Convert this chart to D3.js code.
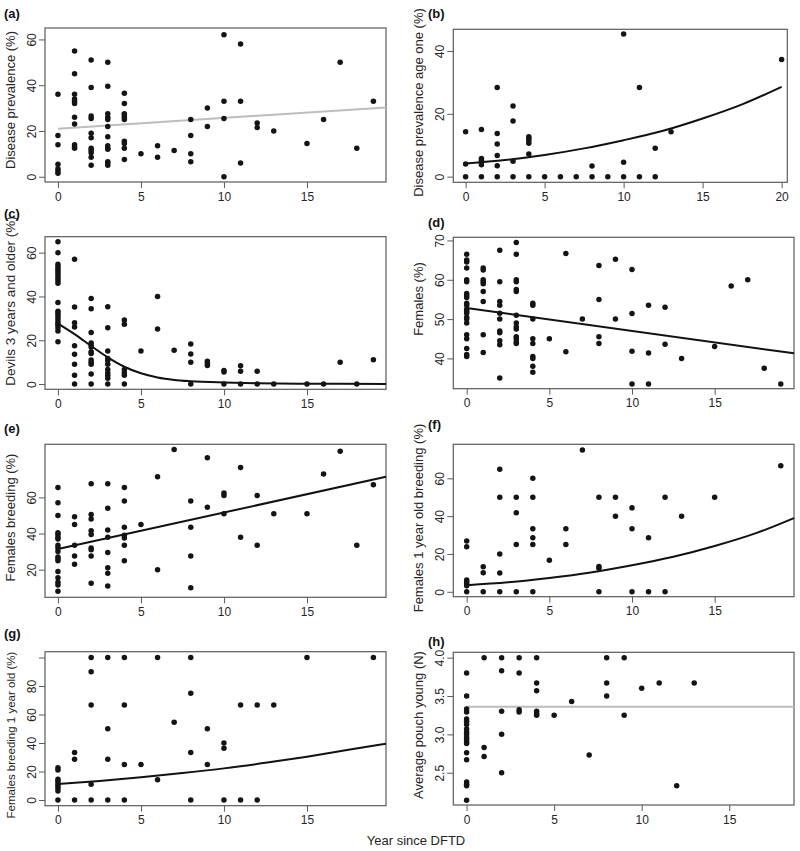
<!DOCTYPE html>
<html>
<head>
<meta charset="utf-8">
<script src="https://cdn.jsdelivr.net/npm/d3@7"></script>
<style>
  html, body { margin: 0; padding: 0; background: #fff; }
  svg { display: block; font-family: "Liberation Sans", Arial, Helvetica, sans-serif; }
</style>
</head>
<body>
<svg id="chart" width="800" height="851"></svg>
<script>
// ---------------- DATA ----------------
// Each series: [yearSinceDFTD, [values observed at that year]]
const diseasePrevalence = [
  [0, [36, 18, 14, 5.5, 3.5, 2.5, 1.5]],
  [1, [55, 45, 36, 34, 33, 32, 26, 23, 14, 13, 12.5]],
  [2, [51, 39, 26.5, 25.5, 19, 17, 12.5, 11.5, 10.5, 8.5, 5]],
  [3, [50, 39.5, 27.5, 26, 25, 22, 17.5, 13.5, 12.5, 12, 6.5, 6, 5]],
  [4, [36.5, 32, 27.5, 27, 26, 25, 15.5, 14.5, 12.5, 7.5]],
  [5, [10]], [6, [13.5, 8.5]], [7, [11.5]], [8, [25, 18, 10, 6.5]],
  [9, [30, 22]], [10, [62, 33, 25.5, 0]], [11, [58, 33, 6]], [12, [23.5, 21.5]],
  [13, [20]], [15, [14.5]], [16, [25]], [17, [50]], [18, [12.5]], [19, [33]]
];
const prevalenceFitX = [0, 19.76];
const prevalenceFitY = [21, 30.3];

const prevalenceAgeOne = [
  [0, [14.3, 4, 0]],
  [1, [15, 5.8, 5.2, 4.6, 3.8, 0]],
  [2, [28.4, 13.7, 10.4, 6.7, 3.5, 0]],
  [3, [22.5, 17.7, 4.9, 0]],
  [4, [12.7, 12.2, 11.5, 10.6, 7.2, 0]],
  [5, [0]], [6, [0]], [7, [0]], [8, [3.4, 0]], [9, [0]],
  [10, [45.4, 4.6, 0]], [11, [28.4, 0]], [12, [9, 0]], [13, [14.3]], [20, [37.3]]
];
const ageOneFitX = [0, 2.5, 5, 7.5, 10, 12.5, 15, 17.5, 20];
const ageOneFitY = [4.2, 5.3, 6.9, 9, 11.6, 14.6, 18.5, 23, 28.6];

const devilsThreePlus = [
  [0, [65, 60, 54.7, 53.6, 52.5, 51.6, 50.6, 49.5, 48.3, 47.2, 46, 37.3, 33.3, 32.3, 31.2, 30, 28.8, 27.7, 27, 25.7, 24.2, 19.3]],
  [1, [57, 35.2, 28, 26, 17.5, 13.6, 9, 4, 0]],
  [2, [39.1, 34.4, 23.5, 18.7, 17.8, 16.9, 14.8, 13.9, 11, 9.9, 9, 4.6, 0]],
  [3, [35.3, 25.7, 15.1, 11.7, 10.8, 9, 6.7, 5.2, 4, 2.6, 0]],
  [4, [29.2, 27.3, 6.7, 5.2, 4, 0]],
  [5, [15.1]], [6, [40, 25.1]], [7, [15.4]], [8, [18.3, 13.7, 10, 0]],
  [9, [10.4, 9.4, 8.5]], [10, [6.2, 5.5, 0]], [11, [8.4, 5.9, 0]], [12, [5.9, 0]],
  [13, [0]], [15, [0]], [16, [0]], [17, [10]], [18, [0]], [19, [11.1]]
];
const threePlusFitX = [0, 1, 2, 3, 4, 5, 6, 7, 8, 10, 12, 15, 19.76];
const threePlusFitY = [27.6, 22.8, 17.4, 12.2, 7.9, 4.9, 3, 1.9, 1.3, 0.7, 0.35, 0.15, 0.05];

const femalesPct = [
  [0, [66.5, 65, 64.5, 63, 60, 59.5, 56.5, 56, 55.5, 54, 53.5, 52.5, 52, 51.5, 50.5, 50, 49, 46, 45, 42.5, 41, 40.5]],
  [1, [63, 62.5, 60, 59.5, 59, 57, 54.5, 46, 41.5]],
  [2, [67.5, 59.5, 54.5, 53.5, 51.5, 50, 47, 46.5, 44.5, 43.5, 35]],
  [3, [69.5, 66.5, 60, 59.5, 57.5, 57, 51, 49, 48, 47.5, 45.5, 45, 44.2, 43.8]],
  [4, [54, 53.5, 50, 45, 43.8, 40.5, 40, 38, 36.5]],
  [5, [45]], [6, [66.7, 41.7]], [7, [50]], [8, [63.6, 55, 45.5, 43.8]],
  [9, [65.2, 50]], [10, [62.6, 51.4, 41.8, 33.5]], [11, [53.5, 41.4, 33.5]],
  [12, [53, 43.6]], [13, [40]], [15, [43]], [16, [58.4]], [17, [60]], [18, [37.5]], [19, [33.5]]
];
const femalesFitX = [0, 19.8];
const femalesFitY = [52.8, 41.3];

const femalesBreeding = [
  [0, [65.5, 57, 50, 40.5, 39.5, 38, 37, 33.5, 32, 30, 27, 26, 25, 19, 15.5, 13, 11.5, 8]],
  [1, [49.3, 45, 33.5, 27.5, 23]],
  [2, [67.5, 50.5, 48, 41.5, 39.5, 32, 31, 27.5, 12.5]],
  [3, [67.5, 54, 42, 38, 29.5, 21, 18, 11]],
  [4, [65.5, 58, 43.5, 39, 37.5, 33.5, 25]],
  [5, [45]], [6, [71.5, 20]], [7, [86.5]], [8, [58, 43.5, 27.5, 10]],
  [9, [82, 54.5]], [10, [62.5, 61, 51]], [11, [76.5, 38]], [12, [61, 33.5]],
  [13, [51]], [15, [51]], [16, [73]], [17, [85.5]], [18, [33.5]], [19, [67]]
];
const breedingFitX = [0, 19.76];
const breedingFitY = [31.4, 71.4];

const oneYearOldBreeding = [
  [0, [26.8, 23.8, 6.2, 5.3, 4.4, 3.2, 0]],
  [1, [13.2, 10.1, 0]],
  [2, [64.8, 50, 20, 10, 0]],
  [3, [50, 41.8, 25, 0]],
  [4, [60, 50, 33.3, 28.6, 25, 0]],
  [5, [16.7]], [6, [33.3, 25]], [7, [75]], [8, [50, 13.4, 12.4, 0]],
  [9, [50, 40]], [10, [44.4, 33.3, 0]], [11, [28.6, 0]], [12, [50, 0]],
  [13, [40]], [15, [50]], [19, [66.7]]
];
const oneYearFitX = [0, 2.5, 5, 7.5, 10, 12.5, 15, 17.5, 19.8];
const oneYearFitY = [3.5, 5, 7.3, 10.2, 14, 18.5, 24.2, 31, 39];

const breedingOneYearOld = [
  [0, [22.7, 21, 14.5, 12.9, 11.2, 9.8, 8.2, 6.3, 0]],
  [1, [33.3, 28.6, 0]],
  [2, [100, 90, 66.7, 11, 0]],
  [3, [100, 50, 28.6, 0]],
  [4, [100, 66.7, 25, 0]],
  [5, [25]], [6, [100, 14.3]], [7, [54.5]], [8, [100, 75, 33.3, 0]],
  [9, [50, 25]], [10, [40, 36.4, 0]], [11, [66.7, 0]], [12, [66.7, 0]],
  [13, [66.7]], [15, [100]], [19, [100]]
];
const breedingOneFitX = [0, 2.5, 5, 7.5, 10, 12.5, 15, 17.5, 19.76];
const breedingOneFitY = [11.2, 13.4, 15.9, 18.9, 22.2, 26.1, 30.4, 35.2, 39.5];

const pouchYoung = [
  [0, [3.8, 3.5, 3.33, 3.29, 3.2, 3.17, 3.13, 3.07, 3.03, 3.0, 2.96, 2.93, 2.9, 2.88, 2.76, 2.67, 2.38, 2.35, 2.33, 2.14]],
  [1, [4, 2.83, 2.71]],
  [2, [4, 3.83, 3.3, 3, 2.5]],
  [3, [4, 3.8, 3.32, 3.29]],
  [4, [4, 3.67, 3.57, 3.3, 3.27, 3.25]],
  [5, [3.25]], [6, [3.43]], [7, [2.73]], [8, [4, 3.67, 3.5]],
  [9, [4, 3.25]], [10, [3.6]], [11, [3.67]], [12, [2.33]], [13, [3.67]]
];
const pouchFitX = [0, 18.7];
const pouchFitY = [3.36, 3.36];

// Tick labels
const xTicksShort = [0, 5, 10, 15];
const xTicksLong = [0, 5, 10, 15, 20];
const panelLetters = ["(a)", "(b)", "(c)", "(d)", "(e)", "(f)", "(g)", "(h)"];
const yTitles = [
  "Disease prevalence (%)", "Disease prevalence age one (%)",
  "Devils 3 years and older (%)", "Females (%)",
  "Females breeding (%)", "Females 1 year old breeding (%)",
  "Females breeding 1 year old  (%)", "Average pouch young (N)"
];
const yTicks = [
  [0, 20, 40, 60], [0, 20, 40], [0, 20, 40, 60], [40, 50, 60, 70],
  [20, 40, 60], [0, 20, 40, 60], [0, 20, 40, 60, 80, 100], [2.5, 3.0, 3.5, 4.0]
];
const yTickFormats = [d3.format("d"), d3.format("d"), d3.format("d"), d3.format("d"),
  d3.format("d"), d3.format("d"), d => d === 100 ? "" : d3.format("d")(d), d3.format(".1f")];
const xTitle = "Year since DFTD";

// ---------------- LAYOUT ----------------
const panels = [
  { data: diseasePrevalence, fx: prevalenceFitX, fy: prevalenceFitY, grey: true,
    box: [45, 386, 28, 182], xd: [-0.78, 19.76], yd: [-2.3, 65], xt: xTicksShort, lab: [4, 18], ty: 100, ts: 13 },
  { data: prevalenceAgeOne, fx: ageOneFitX, fy: ageOneFitY, grey: false,
    box: [453.3, 787.3, 29.3, 182.3], xd: [-0.78, 20.36], yd: [-1.8, 46.9], xt: xTicksLong, lab: [428, 18], ty: 102.5, ts: 13 },
  { data: devilsThreePlus, fx: threePlusFitX, fy: threePlusFitY, grey: false,
    box: [45, 386, 236.7, 389.3], xd: [-0.78, 19.76], yd: [-2.4, 67.3], xt: xTicksShort, lab: [4, 217.5], ty: 301, ts: 13.5 },
  { data: femalesPct, fx: femalesFitX, fy: femalesFitY, grey: false,
    box: [453.3, 794, 237.3, 388.7], xd: [-0.81, 19.8], yd: [32.3, 70.8], xt: xTicksShort, lab: [428, 226.5], ty: 299, ts: 13 },
  { data: femalesBreeding, fx: breedingFitX, fy: breedingFitY, grey: false,
    box: [45, 386, 444.3, 597.3], xd: [-0.78, 19.76], yd: [4.7, 89.4], xt: xTicksShort, lab: [4, 433], ty: 517.5, ts: 13 },
  { data: oneYearOldBreeding, fx: oneYearFitX, fy: oneYearFitY, grey: false,
    box: [453.3, 794, 444.3, 596.7], xd: [-0.81, 19.8], yd: [-2.6, 78], xt: xTicksShort, lab: [428, 429], ty: 518, ts: 13 },
  { data: breedingOneYearOld, fx: breedingOneFitX, fy: breedingOneFitY, grey: false,
    box: [45, 386, 651.7, 805.7], xd: [-0.78, 19.76], yd: [-4, 104.1], xt: xTicksShort, lab: [4, 638], ty: 735, ts: 11.5 },
  { data: pouchYoung, fx: pouchFitX, fy: pouchFitY, grey: true,
    box: [453.3, 794, 652.3, 805], xd: [-0.76, 18.7], yd: [2.079, 4.07], xt: xTicksShort, lab: [428, 645.5], ty: 725, ts: 13 }
];

const svg = d3.select("#chart");
const boxColor = "#5a5a5a";
const textColor = "#262626";

panels.forEach((p, i) => {
  const [L, R, T, B] = p.box;
  const x = d3.scaleLinear().domain(p.xd).range([L, R]);
  const y = d3.scaleLinear().domain(p.yd).range([B, T]);
  const g = svg.append("g");

  // x axis
  const xa = g.append("g").attr("transform", `translate(0,${B})`)
    .call(d3.axisBottom(x).tickValues(p.xt).tickSize(6).tickPadding(4).tickFormat(d3.format("d")));
  xa.select(".domain").remove();
  xa.selectAll("line").attr("stroke", boxColor).attr("stroke-width", 1);
  xa.selectAll("text").attr("font-size", 12).attr("fill", textColor)
    .attr("font-family", '"Liberation Sans", Arial, sans-serif');

  // y axis (rotated labels, R style)
  const ya = g.append("g").attr("transform", `translate(${L},0)`)
    .call(d3.axisLeft(y).tickValues(yTicks[i]).tickSize(6).tickFormat(yTickFormats[i]));
  ya.select(".domain").remove();
  ya.selectAll("line").attr("stroke", boxColor).attr("stroke-width", 1);
  ya.selectAll("text")
    .attr("font-size", 12).attr("fill", textColor)
    .attr("font-family", '"Liberation Sans", Arial, sans-serif')
    .attr("x", 0).attr("y", -9).attr("dy", null)
    .attr("text-anchor", "middle")
    .attr("transform", "rotate(-90)");

  // box
  g.append("rect").attr("x", L).attr("y", T).attr("width", R - L).attr("height", B - T)
    .attr("fill", "none").attr("stroke", boxColor).attr("stroke-width", 1.2);

  // fitted line
  const pts = p.fx.map((v, k) => [v, p.fy[k]]);
  g.append("path").datum(pts)
    .attr("d", d3.line().x(d => x(d[0])).y(d => y(d[1])).curve(d3.curveMonotoneX))
    .attr("fill", "none")
    .attr("stroke", p.grey ? "#bdbdbd" : "#111")
    .attr("stroke-width", 2);

  // points
  const flat = [];
  p.data.forEach(([xv, ys]) => ys.forEach(yv => flat.push([xv, yv])));
  g.selectAll("circle.pt").data(flat).join("circle")
    .attr("class", "pt")
    .attr("cx", d => x(d[0])).attr("cy", d => y(d[1])).attr("r", 2.75)
    .attr("fill", "#141414");

  // y title
  g.append("text")
    .attr("transform", `translate(${L - 30},${p.ty}) rotate(-90)`)
    .attr("text-anchor", "middle").attr("font-size", p.ts).attr("fill", textColor)
    .text(yTitles[i]);

  // panel letter
  g.append("text").attr("x", p.lab[0]).attr("y", p.lab[1])
    .attr("font-size", 13).attr("font-weight", "bold").attr("fill", "#111")
    .text(panelLetters[i]);
});

svg.append("text").attr("x", 416).attr("y", 845).attr("text-anchor", "middle")
  .attr("font-size", 13).attr("fill", textColor).text(xTitle);
</script>
</body>
</html>
